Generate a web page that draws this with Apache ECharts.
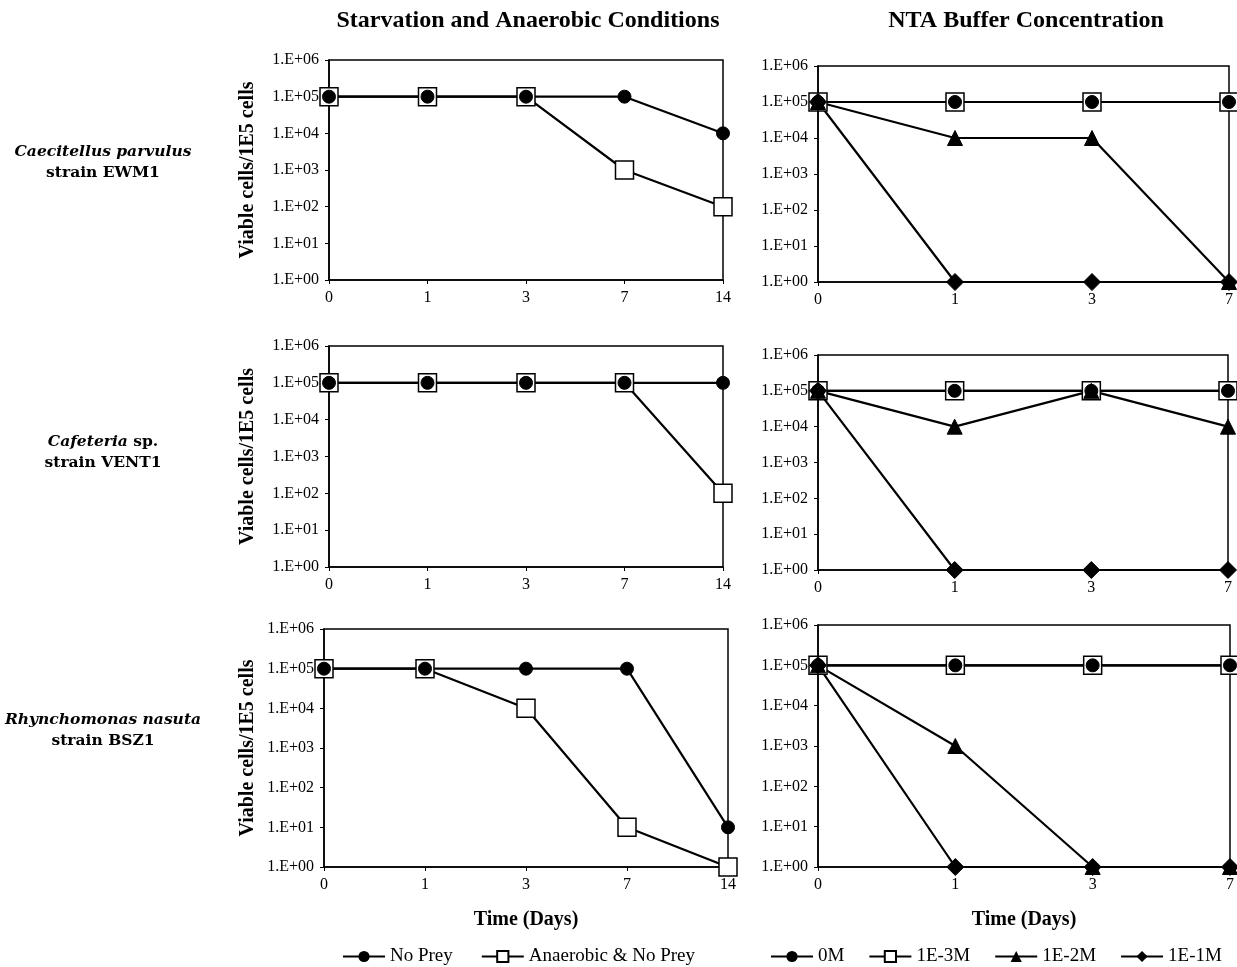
<!DOCTYPE html>
<html>
<head>
<meta charset="utf-8">
<script src="https://cdn.jsdelivr.net/npm/echarts@6/dist/echarts.min.js"></script>
<style>
html,body{margin:0;padding:0;background:#fff;}
#chart{width:1237px;height:967px;}
</style>
</head>
<body>
<div id="chart"></div>
<script>
// ---- data ----
const daysStarv = ['0', '1', '3', '7', '14'];
const daysNTA = ['0', '1', '3', '7'];

const colTitles = ['Starvation and Anaerobic Conditions', 'NTA Buffer Concentration'];
const rowGenus = ['Caecitellus parvulus', 'Cafeteria', 'Rhynchomonas nasuta'];
const rowGenusSuffix = ['', ' sp.', ''];
const rowStrain = ['strain EWM1', 'strain VENT1', 'strain BSZ1'];

const starvNames = ['No Prey', 'Anaerobic & No Prey'];
const ntaNames = ['0M', '1E-3M', '1E-2M', '1E-1M'];

// Starvation & anaerobic (rows: EWM1, VENT1, BSZ1)
const noPrey_EWM1 = [1e5, 1e5, 1e5, 1e5, 1e4];
const anaerobic_EWM1 = [1e5, 1e5, 1e5, 1e3, 1e2];
const noPrey_VENT1 = [1e5, 1e5, 1e5, 1e5, 1e5];
const anaerobic_VENT1 = [1e5, 1e5, 1e5, 1e5, 1e2];
const noPrey_BSZ1 = [1e5, 1e5, 1e5, 1e5, 1e1];
const anaerobic_BSZ1 = [1e5, 1e5, 1e4, 1e1, 1];

// NTA buffer
const nta0M_EWM1 = [1e5, 1e5, 1e5, 1e5];
const nta1e3_EWM1 = [1e5, 1e5, 1e5, 1e5];
const nta1e2_EWM1 = [1e5, 1e4, 1e4, 1];
const nta1e1_EWM1 = [1e5, 1, 1, 1];
const nta0M_VENT1 = [1e5, 1e5, 1e5, 1e5];
const nta1e3_VENT1 = [1e5, 1e5, 1e5, 1e5];
const nta1e2_VENT1 = [1e5, 1e4, 1e5, 1e4];
const nta1e1_VENT1 = [1e5, 1, 1, 1];
const nta0M_BSZ1 = [1e5, 1e5, 1e5, 1e5];
const nta1e3_BSZ1 = [1e5, 1e5, 1e5, 1e5];
const nta1e2_BSZ1 = [1e5, 1e3, 1, 1];
const nta1e1_BSZ1 = [1e5, 1, 1, 1];

const yAxisTitle = 'Viable cells/1E5 cells';
const xAxisTitle = 'Time (Days)';

// ---- chart ----
const SERIF = '"Liberation Serif", "Times New Roman", serif';
const WIDE = '"DejaVu Serif", serif';

const grids = [
  {left: 329, top: 60, width: 394, height: 220},
  {left: 818, top: 66, width: 411, height: 216},
  {left: 329, top: 346, width: 394, height: 221},
  {left: 818, top: 355, width: 410, height: 215},
  {left: 324, top: 629, width: 404, height: 238},
  {left: 818, top: 625, width: 413, height: 242}
].map(g => Object.assign(g, {show: true, borderColor: '#000', borderWidth: 1.5, backgroundColor: 'transparent'}));

function fmtLog(v) {
  const e = Math.round(Math.log10(v));
  return '1.E+' + (e < 10 ? '0' : '') + e;
}

const xAxes = grids.map((g, i) => {
  const isLeft = i % 2 === 0;
  const bottom = i >= 4;
  return {
    type: 'category', gridIndex: i, data: isLeft ? daysStarv : daysNTA,
    boundaryGap: false,
    axisLine: {lineStyle: {color: '#000', width: 1.5}},
    axisTick: {show: true, lineStyle: {color: '#000'}, length: 4},
    axisLabel: {color: '#000', fontFamily: SERIF, fontSize: 16, margin: 10},
    splitLine: {show: false},
    name: bottom ? xAxisTitle : '', nameLocation: 'middle', nameGap: 43,
    nameTextStyle: {color: '#000', fontFamily: SERIF, fontSize: 20, fontWeight: 'bold'}
  };
});

const yAxes = grids.map((g, i) => {
  const isLeft = i % 2 === 0;
  return {
    type: 'log', logBase: 10, gridIndex: i, min: 1, max: 1e6, splitNumber: 6,
    axisLine: {show: true, lineStyle: {color: '#000', width: 1.5}},
    axisTick: {show: true, lineStyle: {color: '#000'}, length: 4},
    minorTick: {show: false},
    axisLabel: {color: '#000', fontFamily: SERIF, fontSize: 16, margin: 10, formatter: fmtLog},
    splitLine: {show: false},
    name: isLeft ? yAxisTitle : '', nameLocation: 'middle', nameGap: i === 4 ? 66 : 71,
    nameTextStyle: {color: '#000', fontFamily: SERIF, fontSize: 20, fontWeight: 'bold'}
  };
});

const lineStyle = {color: '#000', width: 2.2};
function mk(name, idx, data, symbol, size, open) {
  return {
    name, type: 'line', xAxisIndex: idx, yAxisIndex: idx, data,
    symbol, symbolSize: size, showAllSymbol: true,
    lineStyle, itemStyle: open ? {color: '#fff', borderColor: '#000', borderWidth: 1.5} : {color: '#000', borderColor: '#000'},
    emphasis: {disabled: true}, animation: false
  };
}

const starvSets = [[noPrey_EWM1, anaerobic_EWM1], [noPrey_VENT1, anaerobic_VENT1], [noPrey_BSZ1, anaerobic_BSZ1]];
const ntaSets = [[nta0M_EWM1, nta1e3_EWM1, nta1e2_EWM1, nta1e1_EWM1],
                 [nta0M_VENT1, nta1e3_VENT1, nta1e2_VENT1, nta1e1_VENT1],
                 [nta0M_BSZ1, nta1e3_BSZ1, nta1e2_BSZ1, nta1e1_BSZ1]];

const series = [];
for (let r = 0; r < 3; r++) {
  const li = r * 2, ri = r * 2 + 1;
  series.push(mk(starvNames[1], li, starvSets[r][1], 'rect', 18, true));
  series.push(mk(starvNames[0], li, starvSets[r][0], 'circle', 13, false));
  series.push(mk(ntaNames[1], ri, ntaSets[r][1], 'rect', 18, true));
  series.push(mk(ntaNames[3], ri, ntaSets[r][3], 'diamond', 17, false));
  series.push(mk(ntaNames[2], ri, ntaSets[r][2], 'triangle', 15, false));
  series.push(mk(ntaNames[0], ri, ntaSets[r][0], 'circle', 13, false));
}

const graphics = [];
const colCenters = [528, 1026];
colTitles.forEach((t, i) => graphics.push({
  type: 'text', x: colCenters[i], y: 9,
  style: {text: t, font: 'bold 24px ' + SERIF, fill: '#000', textAlign: 'center', textVerticalAlign: 'top'}
}));
const rowY = [141, 431, 709];
for (let r = 0; r < 3; r++) {
  graphics.push({
    type: 'text', x: 103, y: rowY[r],
    style: {
      text: '{i|' + rowGenus[r] + '}{b|' + rowGenusSuffix[r] + '}\n{b|' + rowStrain[r] + '}',
      textAlign: 'center', fill: '#000', lineHeight: 21,
      rich: {
        i: {font: 'italic bold 15.5px ' + WIDE, fill: '#000', lineHeight: 21},
        b: {font: 'bold 15.5px ' + WIDE, fill: '#000', lineHeight: 21}
      }
    }
  });
}

const legendBase = {
  orient: 'horizontal', itemWidth: 42, itemHeight: 14,
  textStyle: {color: '#000', fontFamily: SERIF, fontSize: 19},
  selectedMode: false, top: 947, padding: 0
};

const option = {
  backgroundColor: '#fff',
  animation: false,
  grid: grids,
  xAxis: xAxes,
  yAxis: yAxes,
  series,
  graphic: graphics,
  legend: [
    Object.assign({}, legendBase, {data: starvNames, left: 342, itemGap: 28}),
    Object.assign({}, legendBase, {data: ntaNames, left: 770, itemGap: 24})
  ]
};

const chart = echarts.init(document.getElementById('chart'), null, {renderer: 'canvas'});
chart.setOption(option);
</script>
</body>
</html>
